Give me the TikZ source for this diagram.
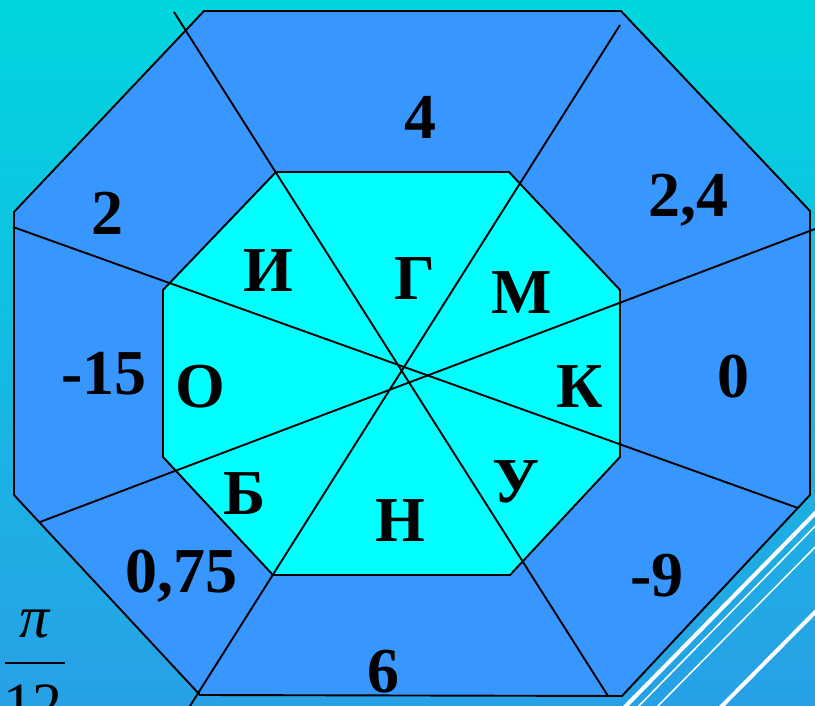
\documentclass[tikz,border=0pt]{standalone}
\usepackage{fontspec}
\setmainfont{Liberation Serif}
\definecolor{outerblue}{RGB}{56,150,255}
\definecolor{innercyan}{RGB}{0,255,255}
\definecolor{bgtop}{RGB}{0,214,222}
\definecolor{bgmid}{RGB}{0,165,245}
\definecolor{bgbot}{RGB}{40,160,230}
\begin{document}
\begin{tikzpicture}[x=1pt,y=-1pt,
  lab/.style={font=\fontsize{64}{64}\selectfont\bfseries, inner sep=0pt},
  edge/.style={draw=black,line width=1.9pt,line join=miter},
  deco/.style={draw=white}]
\useasboundingbox (0,0) rectangle (815,706);
\clip (0,0) rectangle (815,706);
\shade[top color=bgtop, middle color=bgmid, bottom color=bgbot] (0pt,0pt) rectangle (815pt,-706pt);
% decorative white lines
\coordinate (w1a) at (830,498); \coordinate (w1b) at (620,712);
\coordinate (w2a) at (830,511); \coordinate (w2b) at (630,715);
\coordinate (w3a) at (830,532); \coordinate (w3b) at (648,716);
\coordinate (w4a) at (830,597); \coordinate (w4b) at (716,712);
\draw[deco,line width=4pt] (w1a) -- (w1b);
\draw[deco,line width=1.5pt] (w2a) -- (w2b);
\draw[deco,line width=1.5pt] (w3a) -- (w3b);
\draw[deco,line width=4pt] (w4a) -- (w4b);
% outer octagon
\coordinate (o1) at (204,11); \coordinate (o2) at (621,11);
\coordinate (o3) at (810,211); \coordinate (o4) at (810,495);
\coordinate (o5) at (622,696); \coordinate (o6) at (200,695);
\coordinate (o7) at (14,495); \coordinate (o8) at (14,212);
\filldraw[edge,fill=outerblue] (o1)--(o2)--(o3)--(o4)--(o5)--(o6)--(o7)--(o8)--cycle;
% inner octagon
\coordinate (i1) at (276,172); \coordinate (i2) at (509,172);
\coordinate (i3) at (620,290); \coordinate (i4) at (620,457);
\coordinate (i5) at (510,575); \coordinate (i6) at (273,575);
\coordinate (i7) at (163,457); \coordinate (i8) at (163,290);
\filldraw[edge,fill=innercyan] (i1)--(i2)--(i3)--(i4)--(i5)--(i6)--(i7)--(i8)--cycle;
% radial lines
\coordinate (a1) at (174,12); \coordinate (a2) at (608,696);
\coordinate (b1) at (620,25); \coordinate (b2) at (190,706);
\coordinate (c1) at (13,227); \coordinate (c2) at (798,508);
\coordinate (d1) at (40,522); \coordinate (d2) at (815,229);
\draw[edge] (a1) -- (a2);
\draw[edge] (b1) -- (b2);
\draw[edge] (c1) -- (c2);
\draw[edge] (d1) -- (d2);
% outer labels
\node[lab] (n4) at (420,117) {4};
\node[lab] (n24) at (688,200) {2,4};
\node[lab] (n0) at (733,377) {0};
\node[lab] (n9) at (657,576) {-9};
\node[lab] (n6) at (383,672) {6};
\node[lab] (n075) at (181,576) {0,75};
\node[lab] (n15) at (104,374) {-15};
\node[lab] (n2) at (107,213) {2};
% inner letters
\node[lab] (lI) at (268,271) {И};
\node[lab] (lG) at (415,279) {Г};
\node[lab] (lM) at (522,293) {М};
\node[lab] (lK) at (580,387) {К};
\node[lab] (lU) at (516,482) {У};
\node[lab] (lN) at (400,521) {Н};
\node[lab] (lB) at (245,494) {Б};
\node[lab] (lO) at (200,387) {О};
% fraction pi/12
\node[font=\fontsize{60}{60}\selectfont\itshape, inner sep=0pt] (pi) at (35,624) {π};
\coordinate (fr1) at (5,663); \coordinate (fr2) at (65,663);
\draw[line width=1.8pt] (fr1) -- (fr2);
\node[font=\fontsize{60}{60}\selectfont, inner sep=0pt, anchor=north] (twelve) at (33,685) {12};
\end{tikzpicture}
\end{document}
